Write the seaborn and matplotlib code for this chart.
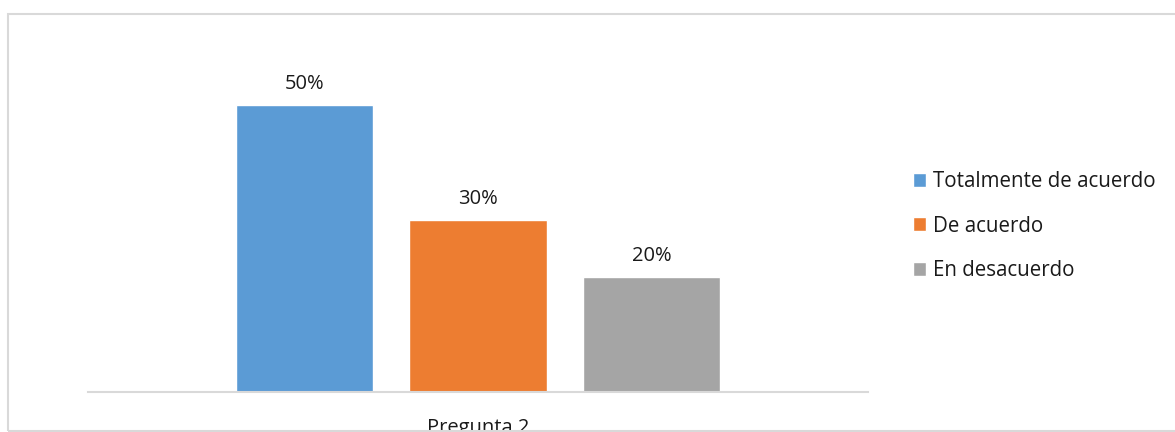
import pandas as pd
import numpy as np
import matplotlib
matplotlib.use("Agg")
import matplotlib.pyplot as plt
import seaborn as sns
from matplotlib.patches import Rectangle

# data
question = ["Pregunta 2"]
answers = ["Totalmente de acuerdo", "De acuerdo", "En desacuerdo"]
percent = [50, 30, 20]
colors = ["#5B9BD5", "#ED7D31", "#A5A5A5"]

df = pd.DataFrame({
    "pregunta": question * len(answers),
    "respuesta": answers,
    "pct": percent,
})

sns.set_style("white")
plt.rcParams['font.family'] = ['Open Sans', 'DejaVu Sans']

fig = plt.figure(figsize=(11.75, 4.32), dpi=100)
W, H = 1175, 432
ax = fig.add_axes([88 / W, 1 - 392 / H, (868 - 88) / W, (392 - 48) / H])

sns.barplot(data=df, x="pregunta", y="pct", hue="respuesta",
            palette=colors, saturation=1, width=0.667, gap=0.21,
            ax=ax, legend=True)

ax.set_ylim(0, 60)
ax.set_xlim(-0.5, 0.5)
for c in ax.containers:
    ax.bar_label(c, labels=[f"{v:.0f}%" for v in c.datavalues],
                 padding=8, fontsize=14.5, color="#1a1a1a")

for s in ["top", "right", "left"]:
    ax.spines[s].set_visible(False)
ax.spines["bottom"].set_color("#d9d9d9")
ax.spines["bottom"].set_linewidth(1.5)
ax.set_yticks([])
ax.set_xlabel("")
ax.set_ylabel("")
ax.tick_params(axis="x", length=0, pad=19, labelsize=14.5, labelcolor="#1a1a1a")

ax.legend(loc="center left", bbox_to_anchor=(913 / W, 1 - 226 / H),
          bbox_transform=fig.transFigure, frameon=False, fontsize=14.8,
          handlelength=0.65, handleheight=0.65, handletextpad=0.3,
          labelspacing=1.15, borderaxespad=0, borderpad=0,
          labelcolor="#1a1a1a")

# chart border
fig.patches.append(Rectangle((8 / W, 1 - 431 / H), 1.2, (431 - 14) / H,
                             transform=fig.transFigure, fill=False,
                             edgecolor="#d9d9d9", linewidth=1.5))

fig.savefig("out.png", dpi=100)
